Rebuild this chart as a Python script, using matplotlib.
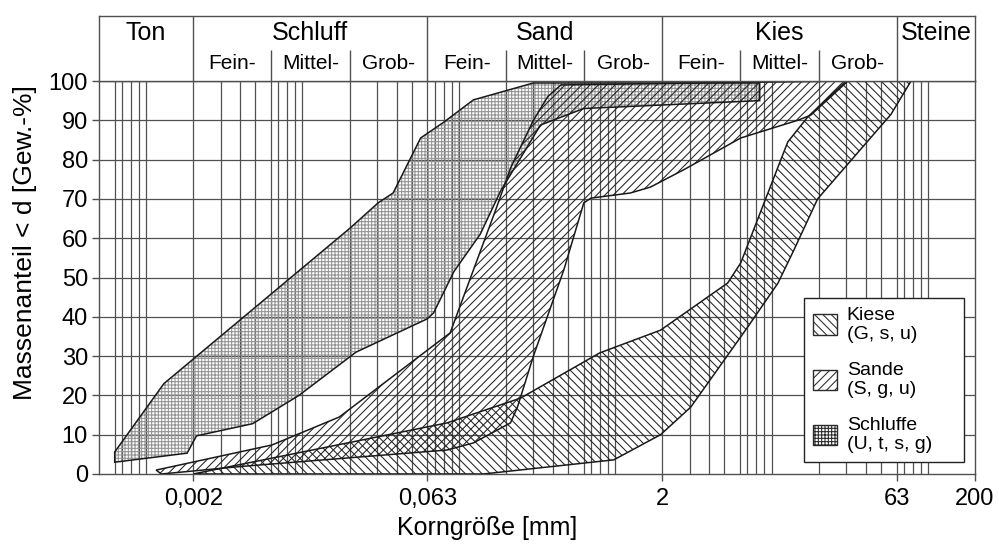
import matplotlib
matplotlib.use("Agg")
import matplotlib.pyplot as plt
import matplotlib.patches as mpatches
import numpy as np

plt.rcParams['font.family'] = ['Liberation Sans', 'DejaVu Sans']
plt.rcParams['hatch.linewidth'] = 0.75

# ---------------- data ----------------
x_min, x_max = 0.0005, 200
y_ticks = [0, 10, 20, 30, 40, 50, 60, 70, 80, 90, 100]
x_tick_vals = [0.002, 0.063, 2, 63, 200]
x_tick_labels = ["0,002", "0,063", "2", "63", "200"]
grid_mult = [1, 2, 3, 4, 5, 6.3, 7, 8, 9]
grid_decades = [1e-4, 1e-3, 1e-2, 1e-1, 1, 10, 100]

main_bounds = [0.0005, 0.002, 0.063, 2, 63, 200]
main_labels = ["Ton", "Schluff", "Sand", "Kies", "Steine"]
sub_bounds = [0.002, 0.0063, 0.02, 0.063, 0.2, 0.63, 2, 6.3, 20, 63]
sub_labels = ["Fein-", "Mittel-", "Grob-"] * 3

# Schluffe band (polygon outline, x in mm, y in %)
schluffe_x = [0.00063, 0.0013, 0.0202, 0.0305, 0.038, 0.057, 0.08, 0.124, 0.3,
              8.4, 8.4, 0.63, 0.333, 0.185, 0.137, 0.093, 0.069, 0.063,
              0.022, 0.0095, 0.0048, 0.0021, 0.00183, 0.00063]
schluffe_y = [5.6, 23, 62.6, 69, 71.5, 85.5, 89.5, 95.2, 99.5,
              99.5, 95, 93, 88.8, 72, 61, 51.5, 41, 39.5,
              31, 20, 12.8, 9.7, 5.3, 3.0]

# Sande band
sande_x = [0.00125, 0.00116, 0.0064, 0.0172, 0.088, 0.119, 0.175, 0.215, 0.3,
           0.37, 0.45, 30.8, 17.8, 14.7, 6.35, 2.74, 1.68, 1.25, 0.70, 0.63,
           0.47, 0.30, 0.237, 0.214, 0.124, 0.084, 0.004]
sande_y = [0, 1, 7.4, 14.5, 35.9, 50, 68, 78, 90,
           96, 99, 100, 91.3, 90, 85.5, 77.4, 73, 71.5, 70.2, 69,
           52, 30, 17, 13, 7.9, 6.1, 1.9]

# Kiese band
kiese_x = [0.002, 0.084, 0.248, 0.795, 1.95, 5.24, 6.35, 12.7, 17, 30,
           78, 58, 19.7, 13.9, 11, 7.04, 3.04, 1.95, 0.98, 0.143]
kiese_y = [0, 13, 19.3, 30.8, 36.6, 48.6, 53.7, 84.5, 90.8, 100,
           100, 91.5, 70, 57, 48.6, 37.4, 17, 10, 3.6, 0]

bands = [
    ("Kiese\n(G, s, u)", kiese_x, kiese_y, "\\" * 4, '#222222'),
    ("Sande\n(S, g, u)", sande_x, sande_y, "/" * 4, '#222222'),
    ("Schluffe\n(U, t, s, g)", schluffe_x, schluffe_y, "+" * 5, '#939393'),
]

# ---------------- figure ----------------
W, H = 999, 550
fig = plt.figure(figsize=(W / 100, H / 100), dpi=100)
L, R, B, T = 99 / W, 975 / W, 1 - 474 / H, 1 - 81 / H
HT = 1 - 16 / H
ax = fig.add_axes([L, B, R - L, T - B])
axh = fig.add_axes([L, T, R - L, HT - T])

gcol = '#505050'
for a in (ax, axh):
    a.set_xscale('log')
    a.set_xlim(x_min, x_max)
    for s in a.spines.values():
        s.set_color(gcol)
        s.set_linewidth(1.0)

ax.set_ylim(0, 100)

# grid
gx = [d * m for d in grid_decades for m in grid_mult if x_min < d * m < x_max]
ax.vlines(gx, 0, 100, colors=gcol, linewidth=0.9, zorder=1)
ax.hlines(y_ticks[1:-1], x_min, x_max, colors=gcol, linewidth=0.9, zorder=1)

# bands: hatch layer + outline
for lab, xs, ys, h, hc in bands[::-1]:
    pts = np.column_stack([xs, ys])
    ax.add_patch(mpatches.Polygon(pts, closed=True, facecolor='none',
                                  edgecolor=hc, hatch=h, linewidth=0,
                                  zorder=2))
for lab, xs, ys, h, hc in bands[::-1]:
    pts = np.column_stack([xs, ys])
    ax.add_patch(mpatches.Polygon(pts, closed=True, fill=False,
                                  edgecolor='#1a1a1a', linewidth=1.1,
                                  zorder=3))

# axes ticks
ax.set_yticks(y_ticks)
ax.set_yticklabels([str(v) for v in y_ticks], fontsize=17)
ax.set_xticks(x_tick_vals)
ax.set_xticklabels(x_tick_labels, fontsize=17)
ax.xaxis.set_minor_locator(matplotlib.ticker.NullLocator())
ax.tick_params(axis='both', direction='out', length=5, width=1.0, color=gcol,
               pad=3)
ax.tick_params(axis='x', pad=5)

fig.text(487 / W, 1 - 528 / H, "Korngröße [mm]", ha='center', va='center',
         fontsize=18)
fig.text(25 / W, 1 - 243 / H, "Massenanteil < d [Gew.-%]", ha='center',
         va='center', rotation=90, fontsize=19)

# header
axh.set_ylim(0, 1)
axh.set_xticks([])
axh.set_yticks([])
axh.xaxis.set_minor_locator(matplotlib.ticker.NullLocator())
sub_h = 0.477
axh.vlines(main_bounds[1:-1], 0, 1, colors=gcol, linewidth=1.0)
subs_only = [b for b in sub_bounds if b not in main_bounds]
axh.vlines(subs_only, 0, sub_h, colors=gcol, linewidth=1.0)
for i, lab in enumerate(main_labels):
    xc = np.sqrt(main_bounds[i] * main_bounds[i + 1])
    axh.text(xc, 0.74, lab, ha='center', va='center', fontsize=18)
for i, lab in enumerate(sub_labels):
    xc = np.sqrt(sub_bounds[i] * sub_bounds[i + 1])
    axh.text(xc, 0.27, lab, ha='center', va='center', fontsize=15)

# legend
handles = []
for lab, xs, ys, h, hc in bands:
    try:
        p = mpatches.Patch(facecolor='white', edgecolor='#2a2a2a', hatch=h,
                           hatchcolor=hc, linewidth=1.0, label=lab)
    except Exception:
        p = mpatches.Patch(facecolor='white', edgecolor='#2a2a2a', hatch=h,
                           linewidth=1.0, label=lab)
    handles.append(p)
lx0 = (804 - 99) / 876
lw_ = (964 - 804) / 876
ly0 = (474 - 462) / 393
leg = ax.legend(handles=handles, loc='lower left',
                bbox_to_anchor=(lx0, ly0, lw_, 0.3), mode='expand',
                fontsize=14, frameon=True, fancybox=False, framealpha=1,
                edgecolor='#222222', handlelength=1.25, handleheight=1.25,
                handletextpad=0.5, labelspacing=0.95, borderpad=0.45,
                borderaxespad=0)
leg.get_frame().set_linewidth(1.0)
leg.set_zorder(5)

fig.savefig("out.png", dpi=100)
